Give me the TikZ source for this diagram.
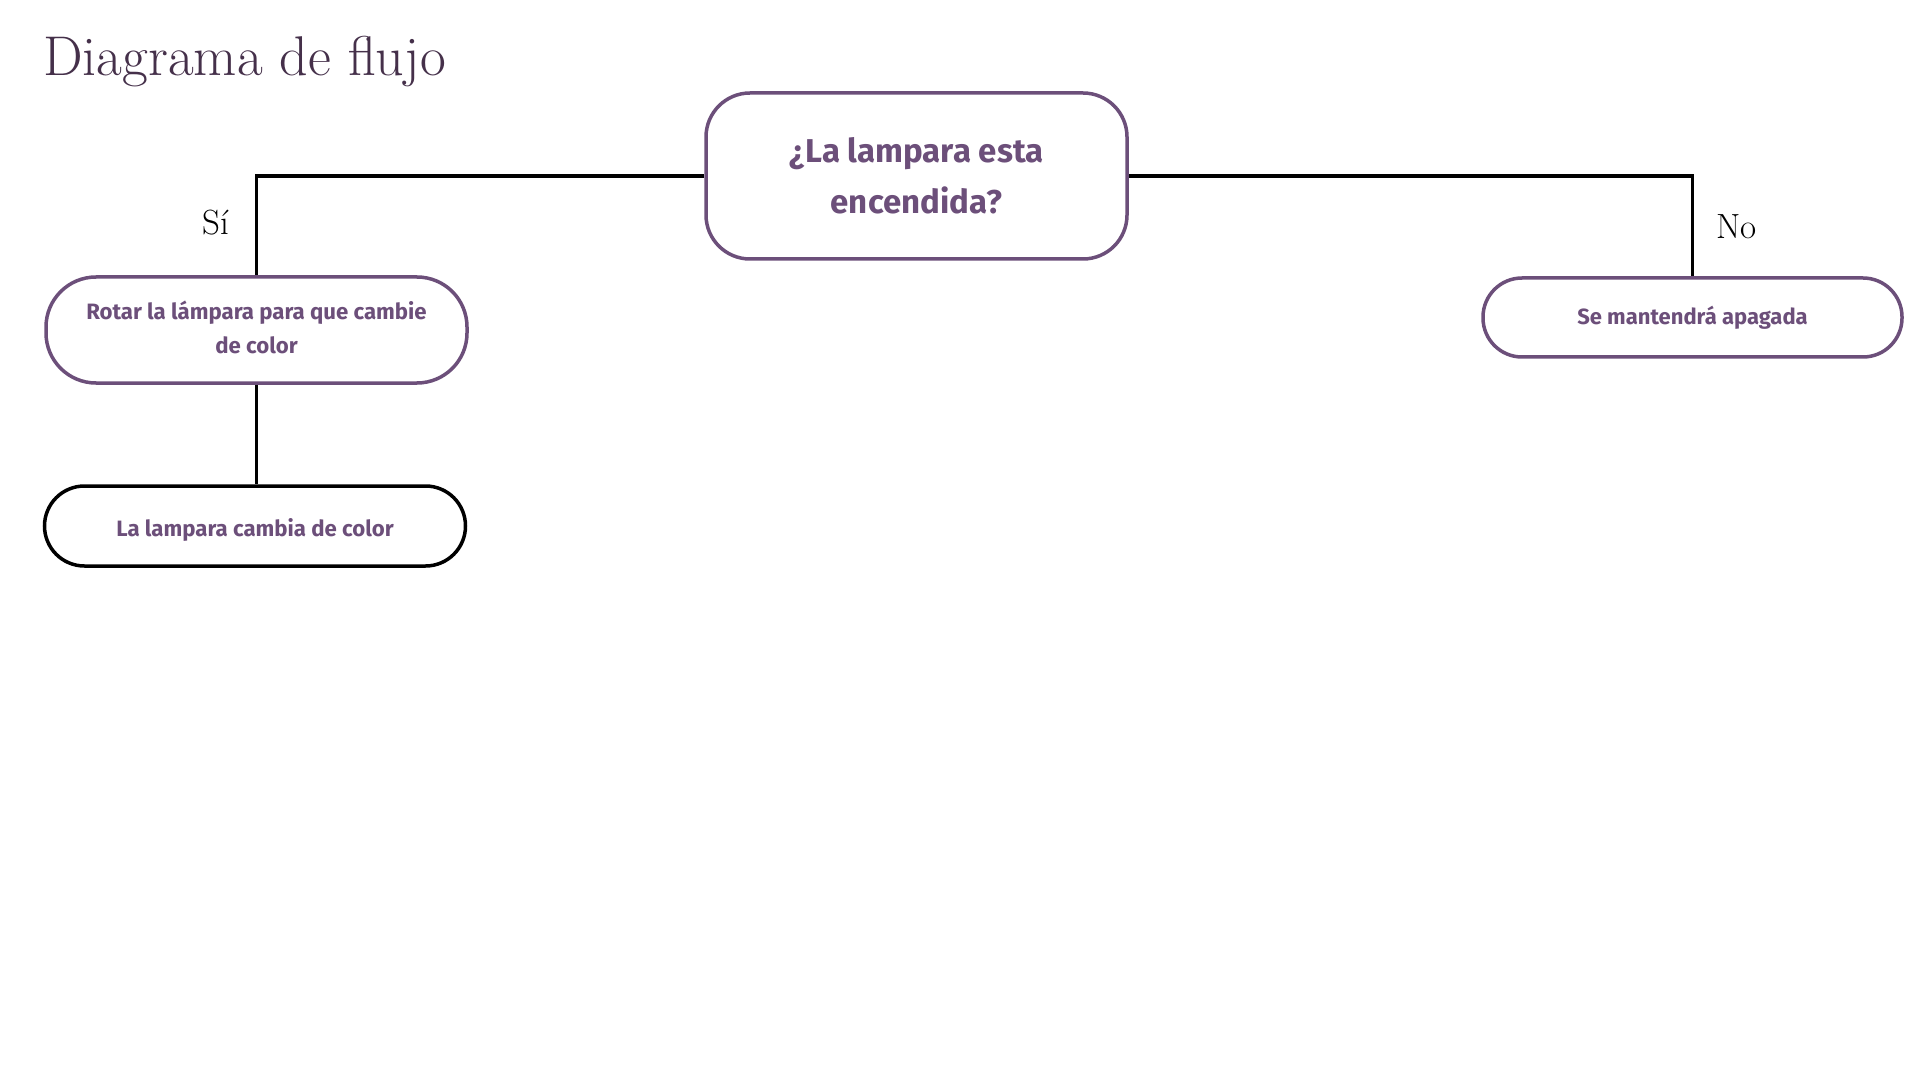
\documentclass[tikz,border=0pt]{standalone}
\usepackage{fontspec}
\newfontfamily\boxfont{Fira Sans}
\definecolor{lila}{HTML}{6C4F7A}
\definecolor{titlecol}{HTML}{45304A}
\begin{document}
\begin{tikzpicture}[x=0.5pt,y=-0.5pt,
  box/.style={draw=lila, line width=1.75pt, fill=white, text=lila, align=center, inner sep=0pt},
  conn/.style={draw=black, line width=1.75pt, line join=miter},
  lbl/.style={anchor=base, inner sep=0pt, font=\fontsize{17.5}{20}\selectfont}
]
\useasboundingbox[fill=white] (0,0) rectangle (1920,1080);

\node[anchor=base west, inner sep=0pt, text=titlecol, font=\fontsize{28}{32}\selectfont] (title) at (43,76) {Diagrama de flujo};

\node[box, minimum width=210.5pt, minimum height=83pt, rounded corners=22pt,
      font=\boxfont\bfseries\fontsize{16.5}{25.5}\selectfont] (top) at (916.5,176) {¿La lampara esta\\encendida?};

\node[box, minimum width=210.5pt, minimum height=53pt, rounded corners=25pt,
      font=\boxfont\bfseries\fontsize{11.1}{17}\selectfont] (rot) at (256.5,330) {\raisebox{5.5pt}[0pt][0pt]{\parbox[t]{200pt}{\centering Rotar la lámpara para que cambie\\de color}}};

\node[box, draw=black, minimum width=210.5pt, minimum height=40pt, rounded corners=20pt,
      font=\boxfont\bfseries\fontsize{11.1}{14}\selectfont] (cam) at (255,526) {\raisebox{-5pt}[0pt][0pt]{La lampara cambia de color}};

\node[box, minimum width=209.5pt, minimum height=39.5pt, rounded corners=19.5pt,
      font=\boxfont\bfseries\fontsize{11}{14}\selectfont] (apa) at (1692.5,317.5) {Se mantendrá apagada};

\draw[conn] (top.west) -| (rot.north);
\draw[conn] (top.east) -| (apa.north);
\draw[conn] (rot.south) -- (rot.south |- cam.north);

\node[lbl] (si) at (215.5,235) {Sí};
\node[lbl] (no) at (1736.5,239) {No};
\end{tikzpicture}
\end{document}
